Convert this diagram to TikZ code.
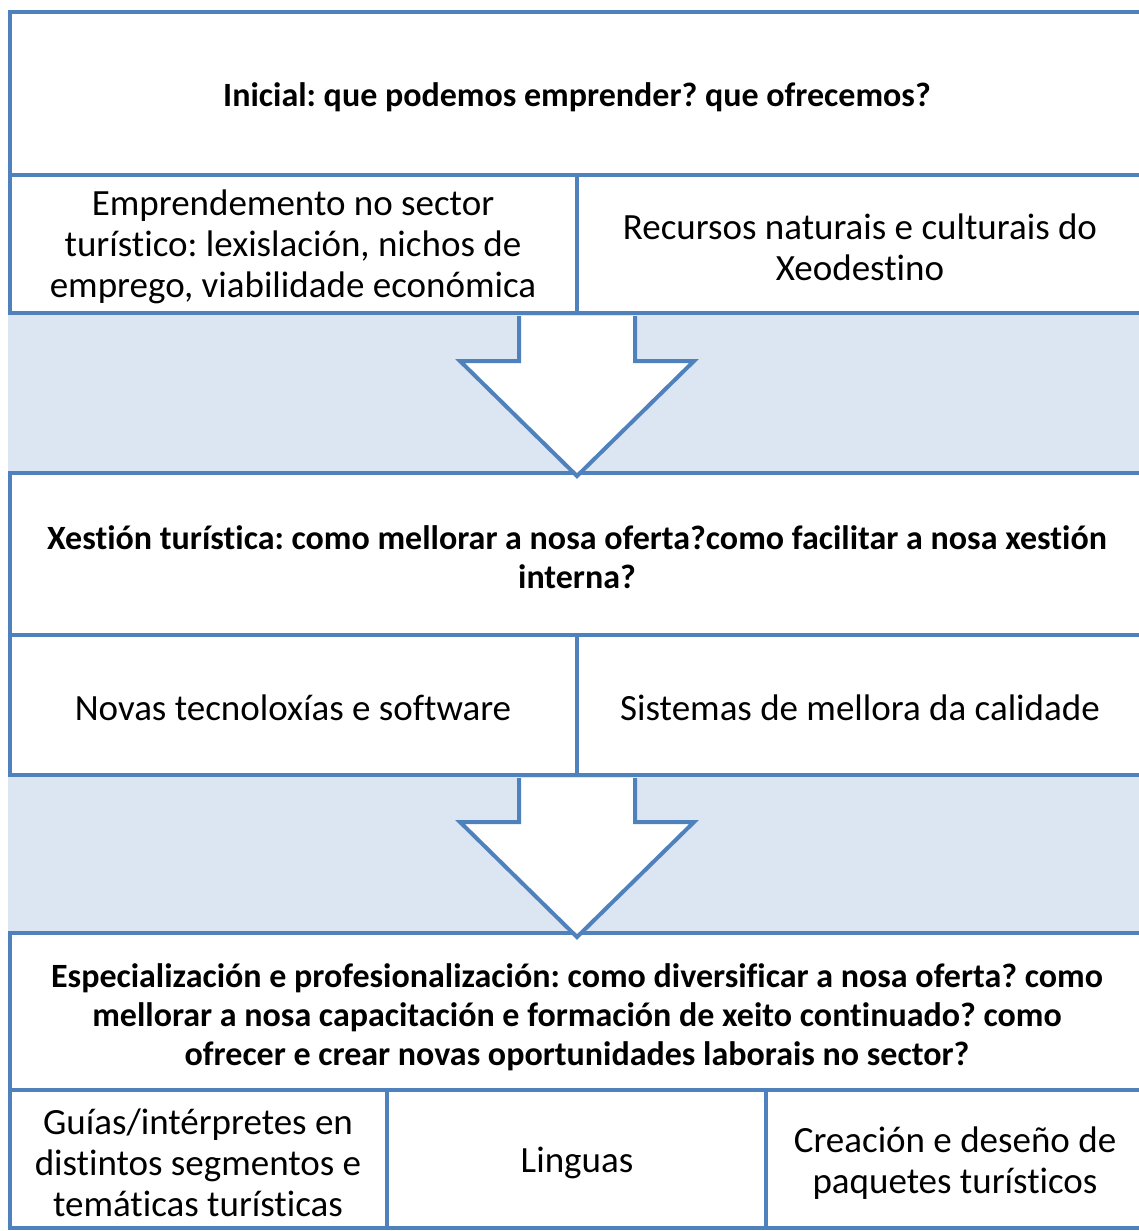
\documentclass[tikz,border=0pt]{standalone}
\usepackage{fontspec}
\setmainfont{Carlito}[Ligatures=NoCommon]
\usetikzlibrary{positioning}
\definecolor{frameblue}{RGB}{79,129,189}
\definecolor{bandblue}{RGB}{220,230,242}
\tikzset{
  box/.style={draw=frameblue, fill=white, line width=4pt},
  band/.style={fill=bandblue},
  blockarrow/.style={draw=frameblue, fill=white, line width=4pt, line join=miter},
  headtext/.style={align=center, yshift=-3pt, font=\fontsize{34}{39}\selectfont\bfseries},
  celltext/.style={align=center, yshift=-3pt, font=\fontsize{37}{41}\selectfont}
}
\frenchspacing
\begin{document}
\begin{tikzpicture}[x=1pt, y=-1pt]
\useasboundingbox (0,0) rectangle (1139,1231);
% shaded bands between the stages
	\fill[band] (8,313) rectangle (1139,473);
	\fill[band] (8,775) rectangle (1139,933);
% first stage
	\draw[box] (10,12) rectangle (1150,175);
	\draw[box] (10,175) rectangle (577,313);
	\draw[box] (577,175) rectangle (1150,313);
	\node[headtext] (inicial) at (577,94) {Inicial: que podemos emprender? que ofrecemos?};
	\node[celltext] (emprende) at (293,244) {Emprendemento no sector\\turístico: lexislación, nichos de\\emprego, viabilidade económica};
	\node[celltext] (recursos) at (860,244) {Recursos naturais e culturais do\\Xeodestino};
% second stage
	\draw[box] (10,473) rectangle (1150,635);
	\draw[box] (10,635) rectangle (577,775);
	\draw[box] (577,635) rectangle (1150,775);
	\node[headtext] (xestion) at (577,554) {Xestión turística: como mellorar a nosa oferta?como facilitar a nosa xestión\\interna?};
	\node[celltext] (novas) at (293,705) {Novas tecnoloxías e software};
	\node[celltext] (sistemas) at (860,705) {Sistemas de mellora da calidade};
% third stage
	\draw[box] (10,933) rectangle (1150,1090);
	\draw[box] (10,1090) rectangle (387,1228);
	\draw[box] (387,1090) rectangle (766,1228);
	\draw[box] (766,1090) rectangle (1150,1228);
	\node[headtext] (especial) at (577,1014) {Especialización e profesionalización: como diversificar a nosa oferta? como\\mellorar a nosa capacitación e formación de xeito continuado? como\\ofrecer e crear novas oportunidades laborais no sector?};
	\node[celltext] (guias) at (198,1160) {Guías/intérpretes en\\distintos segmentos e\\temáticas turísticas};
	\node[celltext] (linguas) at (577,1160) {Linguas};
	\node[celltext] (paquetes) at (955,1160) {Creación e deseño de\\paquetes turísticos};
% block arrows
	\draw[blockarrow] (519,316) -- (519,361) -- (460,361) -- (577,476) -- (694,361) -- (635,361) -- (635,316);
	\draw[blockarrow] (519,778) -- (519,822) -- (460,822) -- (577,937) -- (694,822) -- (635,822) -- (635,778);
\end{tikzpicture}
\end{document}
